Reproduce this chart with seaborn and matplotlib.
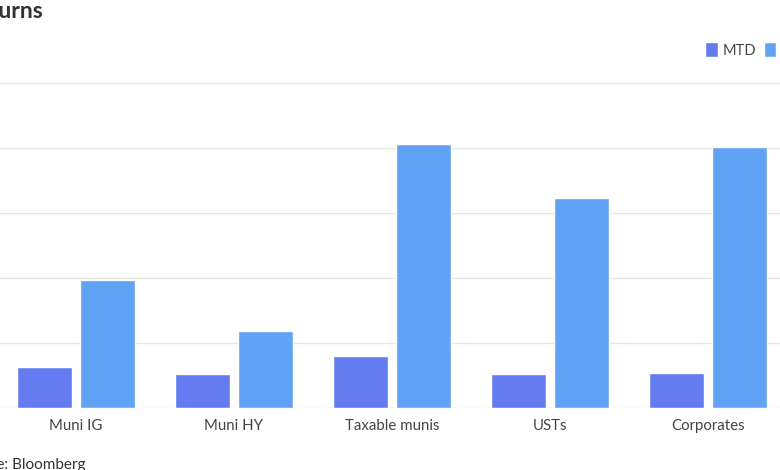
import pandas as pd
import matplotlib.pyplot as plt
import seaborn as sns
from matplotlib.patches import Patch

# data (gridline step = 1 unit)
categories = ['Muni IG', 'Muni HY', 'Taxable munis', 'USTs', 'Corporates']
mtd = [0.63, 0.52, 0.80, 0.52, 0.54]
ytd = [1.97, 1.18, 4.06, 3.23, 4.02]
periods = ['MTD', 'YTD']
colors = ['#647CF0', '#60A2F3']

df = pd.DataFrame({
    'category': categories * 2,
    'value': mtd + ytd,
    'period': ['MTD'] * len(categories) + ['YTD'] * len(categories),
})

sns.set_style('white')
plt.rcParams['font.family'] = ['Lato', 'DejaVu Sans']

fig = plt.figure(figsize=(7.8, 4.7), dpi=100)
# axes run off the left/right edges, like the cropped reference
ax = fig.add_axes([-3 / 780, 62 / 470, 790 / 780, 325 / 470])

sns.barplot(data=df, x='category', y='value', hue='period',
            palette=colors, saturation=1, width=0.8, gap=0.13,
            ax=ax, legend=False)

ax.set_ylim(0, 5)
ax.set_xlim(-0.5, 4.5)
ax.set_yticks(range(0, 6))
ax.set_yticklabels([])
ax.yaxis.grid(True, color='#e6e6e6', linewidth=1)
ax.set_axisbelow(True)
for s in ax.spines.values():
    s.set_visible(False)
ax.set_xlabel('')
ax.set_ylabel('')
ax.tick_params(axis='x', length=5, color='#dddddd', labelsize=10.8,
               labelcolor='#444444', pad=3)
ax.tick_params(axis='y', length=0)

fig.text(43 / 780, 1 - 12 / 470, 'Total returns', ha='right', va='center',
         fontsize=16.5, fontweight='bold', color='#333333')
fig.text(85 / 780, 1 - 465 / 470, 'Source: Bloomberg', ha='right', va='center',
         fontsize=11, color='#333333')

handles = [Patch(facecolor=c, label=p) for c, p in zip(colors, periods)]
fig.legend(handles=handles, ncol=2, loc='center left',
           bbox_to_anchor=(692 / 780, 1 - 50 / 470), frameon=False,
           fontsize=10.5, handlelength=0.85, handleheight=1.2,
           handletextpad=0.35, columnspacing=0.5, labelcolor='#444444')

fig.savefig('out.png', dpi=100)
